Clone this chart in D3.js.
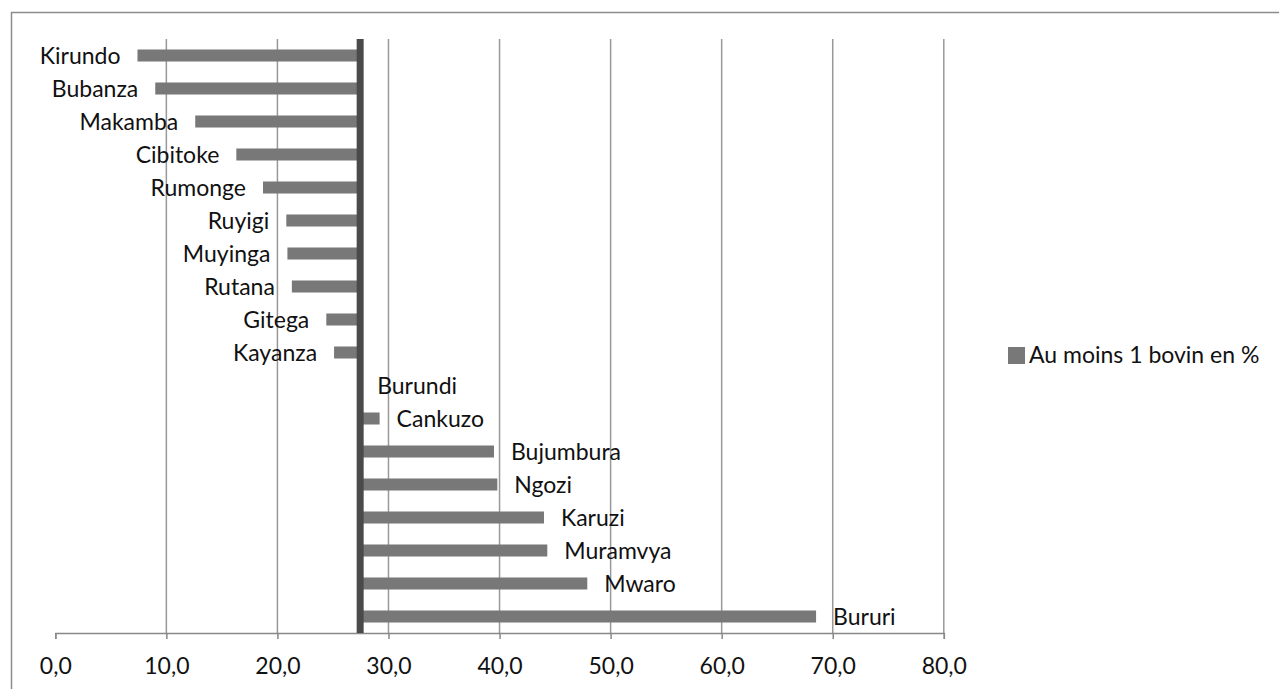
<!DOCTYPE html>
<html>
<head>
<meta charset="utf-8">
<script src="https://cdn.jsdelivr.net/npm/d3@7"></script>
<style>
  html, body { margin: 0; padding: 0; background: #fff; }
  svg { display: block; }
  text { font-family: Lato, "Liberation Sans", Arial, sans-serif; font-weight: 400; fill: #111; }
</style>
</head>
<body>
<svg id="chart" width="1279" height="689"></svg>
<script>
const categories = ["Kirundo","Bubanza","Makamba","Cibitoke","Rumonge","Ruyigi","Muyinga","Rutana","Gitega","Kayanza","Burundi","Cankuzo","Bujumbura","Ngozi","Karuzi","Muramvya","Mwaro","Bururi"];
const values = [7.4, 9.0, 12.6, 16.3, 18.7, 20.8, 20.9, 21.3, 24.4, 25.1, 27.45, 29.2, 39.5, 39.8, 44.0, 44.3, 47.9, 68.5];
const baseValue = 27.45; // axis crossing (Burundi)
const xTicks = [0, 10, 20, 30, 40, 50, 60, 70, 80];
const seriesName = "Au moins 1 bovin en %";

const svg = d3.select("#chart");
const FONT = "Lato, 'Liberation Sans', Arial, sans-serif";
const fmt = d => d3.format(".1f")(d).replace(".", ",");

// chart frame
svg.append("rect").attr("x", 11.5).attr("y", 12.5).attr("width", 1300).attr("height", 700)
  .attr("fill", "#fff").attr("stroke", "#8c8c8c").attr("stroke-width", 1.5);

const x = d3.scaleLinear().domain([0, 80]).range([55.3, 943.8]);
const y = d3.scaleBand().domain(categories).range([39, 633]).paddingInner(0.636).paddingOuter(0.318);

// gridlines
svg.append("g").selectAll("line").data(xTicks.filter(t => t > 0)).join("line")
  .attr("x1", d => x(d)).attr("x2", d => x(d)).attr("y1", 39).attr("y2", 633)
  .attr("stroke", "#999").attr("stroke-width", 1.5);

// x axis
const xAxis = svg.append("g").attr("transform", "translate(0,633)")
  .call(d3.axisBottom(x).tickValues(xTicks).tickFormat(fmt).tickSize(6).tickPadding(19));
xAxis.select(".domain").attr("stroke", "#888").attr("stroke-width", 1.5);
xAxis.selectAll(".tick line").attr("stroke", "#888").attr("stroke-width", 1.5);
xAxis.selectAll(".tick text").attr("font-size", 23).attr("font-family", FONT).attr("font-weight", 400).attr("fill", "#111");

// bars
svg.append("g").selectAll("rect").data(categories).join("rect")
  .attr("x", (d, i) => x(Math.min(values[i], baseValue)))
  .attr("width", (d, i) => Math.abs(x(values[i]) - x(baseValue)))
  .attr("y", d => y(d))
  .attr("height", y.bandwidth())
  .attr("fill", "#787878");

// category axis (crossing line)
svg.append("line").attr("x1", x(baseValue)).attr("x2", x(baseValue)).attr("y1", 39).attr("y2", 633)
  .attr("stroke", "#4a4a4a").attr("stroke-width", 7);

// labels
svg.append("g").selectAll("text").data(categories).join("text")
  .attr("x", (d, i) => values[i] < baseValue ? x(values[i]) - 17 : x(Math.max(values[i], baseValue)) + 17)
  .attr("y", d => y(d) + y.bandwidth() / 2 + 8.3)
  .attr("text-anchor", (d, i) => values[i] < baseValue ? "end" : "start")
  .attr("font-size", 23)
  .text(d => d);

// legend
const lg = svg.append("g");
lg.append("rect").attr("x", 1008).attr("y", 347).attr("width", 17).attr("height", 17).attr("fill", "#787878");
lg.append("text").attr("x", 1029).attr("y", 363).attr("font-size", 23).text(seriesName);
</script>
</body>
</html>
